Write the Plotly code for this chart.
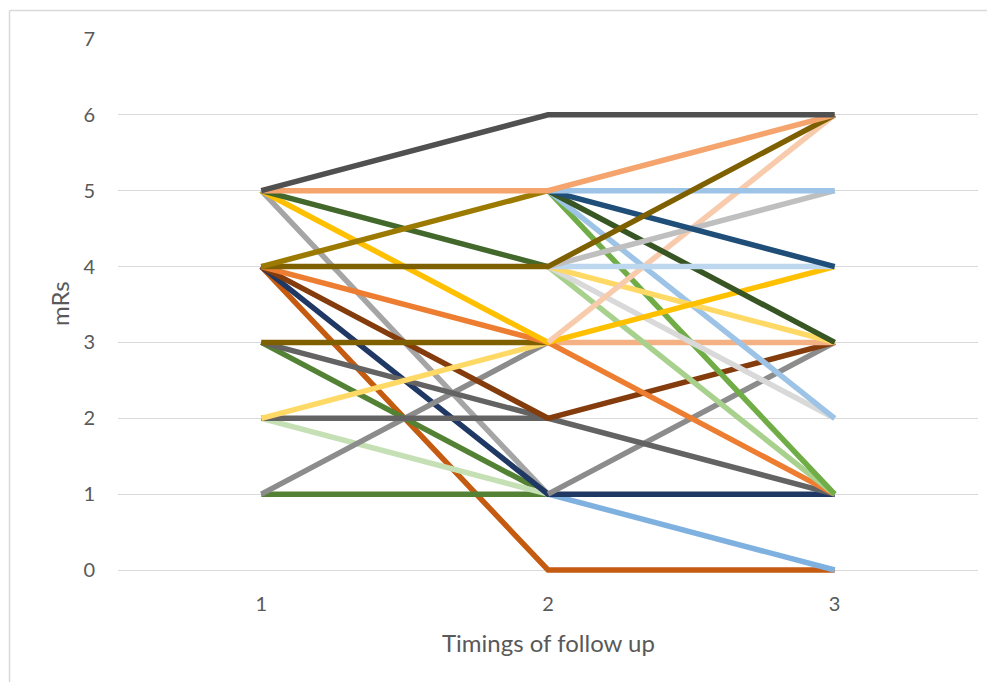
import plotly.graph_objects as go

# Timings of follow up (category positions)
timings = [1, 2, 3]
tick_labels = ["1", "2", "3"]
y_ticks = [0, 1, 2, 3, 4, 5, 6, 7]

# mRs values per patient line (None = no segment drawn)
s01 = [4, 0, 0]
s02 = [1, 1, None]
s03 = [3, 1, None]
s04 = [2, 1, None]
s05 = [5, 1, None]
s06 = [None, 1, 0]
s07 = [4, 1, 1]
s08 = [1, 3, None]
s09 = [None, 1, 3]
s10 = [2, 2, None]
s11 = [3, 2, 1]
s12 = [4, 2, 3]
s13 = [2, 3, None]
s14 = [3, 3, None]
s15 = [None, 3, 3]
s16 = [4, 3, 1]
s17 = [None, 4, 1]
s18 = [None, 5, 1]
s19 = [None, 4, 2]
s20 = [None, 5, 2]
s21 = [None, 4, 3]
s22 = [5, 3, 4]
s23 = [None, 3, 6]
s24 = [None, 5, 3]
s25 = [None, 4, 4]
s26 = [None, 4, 5]
s27 = [None, 5, 4]
s28 = [None, 5, 5]
s29 = [5, 4, None]
s30 = [4, 4, 6]
s31 = [4, 5, None]
s32 = [5, 5, 6]
s33 = [5, 6, 6]

series = [s01, s02, s03, s04, s05, s06, s07, s08, s09, s10, s11, s12, s13, s14,
          s15, s16, s17, s18, s19, s20, s21, s22, s23, s24, s25, s26, s27, s28,
          s29, s30, s31, s32, s33]
colors = ["#C55A11", "#548235", "#548235", "#C5E0B4", "#A5A5A5", "#7FB1E0",
          "#203864", "#8C8C8C", "#8C8C8C", "#636363", "#636363", "#843C0C",
          "#FFD966", "#7F6000", "#F4B183", "#ED7D31", "#A9D18E", "#70AD47",
          "#D9D9D9", "#9DC3E6", "#FFD966", "#FFC000", "#F8CBAD", "#375623",
          "#BDD7EE", "#BFBFBF", "#1F4E79", "#9DC3E6", "#43682B", "#7F6000",
          "#9C7A00", "#F4A46C", "#505050"]

fig = go.Figure()
for i, (vals, col) in enumerate(zip(series, colors)):
    fig.add_trace(go.Scatter(
        x=timings, y=vals, mode="lines", name=f"Series{i+1}",
        line=dict(color=col, width=5.5), connectgaps=False,
        hoverinfo="x+y"))

font_family = "Lato, 'Open Sans', sans-serif"
text_color = "#595959"

W, H = 987, 674
L, R, T, B = 110, 17, 31, 108
PW, PH = W - L - R, H - T - B
unit = 531 / 7.0
y_min = 7 - PH / unit  # small pad below 0 so the 0 lines are not clipped


def px_x(px):
    return (px - L) / PW


def px_y(py):
    return (H - B - py) / PH


fig.update_layout(
    width=W, height=H,
    margin=dict(l=L, r=R, t=T, b=B),
    paper_bgcolor="white", plot_bgcolor="white",
    showlegend=False,
    font=dict(family=font_family, color=text_color, size=20),
    xaxis=dict(range=[0.5, 3.5], tickvals=timings, ticktext=tick_labels,
               showgrid=False, zeroline=False, showline=False,
               ticks="", ticklabelstandoff=16,
               tickfont=dict(size=20, color=text_color)),
    yaxis=dict(range=[y_min, 7], tickvals=y_ticks, showgrid=True,
               gridcolor="#D9D9D9", gridwidth=1, zeroline=False,
               showline=False, ticks="", ticklabelstandoff=22,
               tickfont=dict(size=20, color=text_color)),
    annotations=[
        dict(text="Timings of follow up", xref="paper", yref="paper",
             x=0.5, y=px_y(634), xanchor="center", yanchor="middle",
             showarrow=False, font=dict(size=24, color=text_color)),
        dict(text="mRs", xref="paper", yref="paper",
             x=px_x(51), y=px_y(296), xanchor="center",
             yanchor="middle", textangle=-90, showarrow=False,
             font=dict(size=24, color=text_color)),
    ],
    shapes=[
        dict(type="line", xref="paper", yref="paper",
             x0=px_x(1.5), x1=px_x(W),
             y0=px_y(2.5), y1=px_y(2.5),
             line=dict(color="#D9D9D9", width=1.5)),
        dict(type="line", xref="paper", yref="paper",
             x0=px_x(1.5), x1=px_x(1.5),
             y0=px_y(2.5), y1=px_y(H),
             line=dict(color="#D9D9D9", width=1.5)),
    ],
)

fig.write_html("out.html")
